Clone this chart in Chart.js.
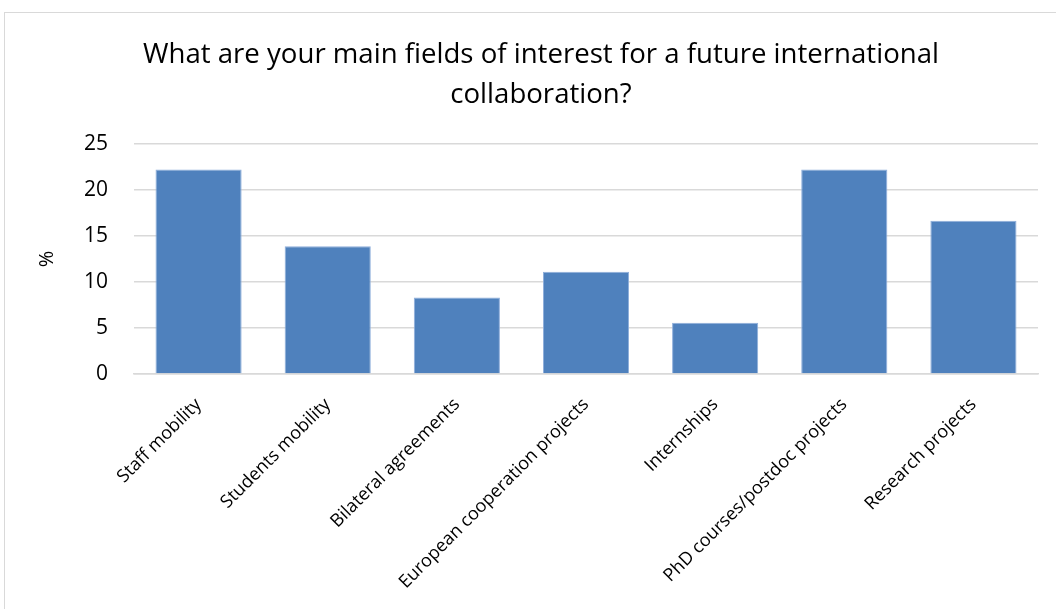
<!DOCTYPE html>
<html>
<head>
<meta charset="utf-8">
<script src="https://cdn.jsdelivr.net/npm/chart.js@4/dist/chart.umd.min.js"></script>
<style>
  html, body { margin: 0; padding: 0; background: #fff; }
  #wrap { position: relative; width: 1056px; height: 609px; overflow: hidden; }
  #frame { position: absolute; left: 4px; top: 12px; width: 1100px; height: 700px; border: 1px solid #d9d9d9; }
  canvas { position: absolute; left: 0; top: 0; }
</style>
</head>
<body>
<div id="wrap">
  <div id="frame"></div>
  <canvas id="chart" width="1056" height="609"></canvas>
</div>
<script>
// data
const categories = [
  "Staff mobility",
  "Students mobility",
  "Bilateral agreements",
  "European cooperation projects",
  "Internships",
  "PhD courses/postdoc projects",
  "Research projects"
];
const percentValues = [22.22, 13.89, 8.33, 11.11, 5.56, 22.22, 16.67];
const yTicks = [0, 5, 10, 15, 20, 25];

const FONT = "'Open Sans', Lato, sans-serif";
const grey = '#d9d9d9';

const ctx = document.getElementById('chart');
new Chart(ctx, {
  type: 'bar',
  data: {
    labels: categories,
    datasets: [{
      label: '%',
      data: percentValues,
      backgroundColor: '#4f81bd',
      borderColor: '#8eaedb',
      borderWidth: 1,
      barPercentage: 0.667,
      categoryPercentage: 1
    }]
  },
  options: {
    responsive: false,
    animation: false,
    // left padding shifts the title centre to match the original
    layout: { padding: { top: 0, left: 44, right: 18, bottom: 0 } },
    plugins: {
      legend: { display: false },
      tooltip: { enabled: false },
      title: {
        display: true,
        text: ["What are your main fields of interest for a future international", "collaboration?"],
        color: '#000',
        font: { family: FONT, size: 27.6, weight: 'normal', lineHeight: 1.45 },
        padding: { top: 35, bottom: 29 }
      }
    },
    scales: {
      x: {
        grid: { display: false, drawTicks: false },
        border: { color: grey, width: 1.5 },
        ticks: {
          color: '#000',
          font: { family: FONT, size: 18 },
          minRotation: 45,
          maxRotation: 45,
          autoSkip: false,
          padding: 20
        },
        afterFit: s => { s.height = 235; }
      },
      y: {
        min: 0,
        max: 25,
        afterBuildTicks: s => { s.ticks = yTicks.map(v => ({ value: v })); },
        grid: { color: grey, lineWidth: 1.5, drawTicks: false },
        border: { display: false },
        ticks: {
          color: '#000',
          font: { family: FONT, size: 21 },
          padding: 26
        },
        title: {
          display: true,
          text: '%',
          color: '#000',
          font: { family: FONT, size: 20, lineHeight: 0.3 },
          padding: 0
        },
        afterFit: s => { s.width = 90; }
      }
    }
  }
});
</script>
</body>
</html>
